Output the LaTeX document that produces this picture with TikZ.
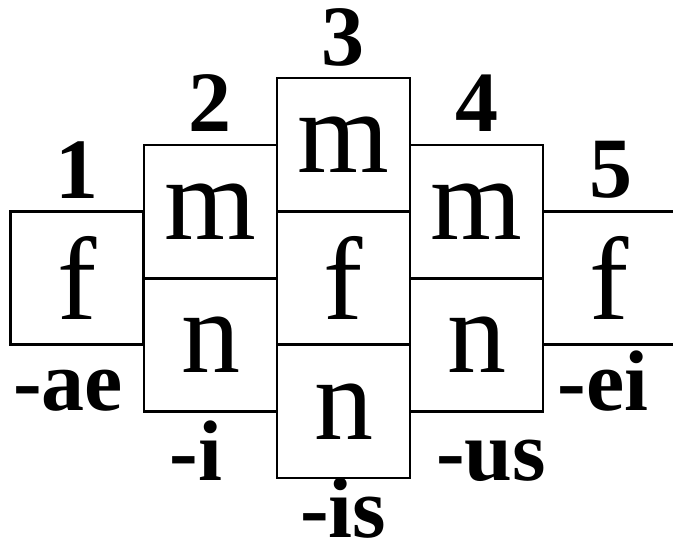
\documentclass[tikz,border=0pt]{standalone}
\usepackage{fontspec}
\setmainfont{Liberation Serif}
\usepackage{tikz}
\usetikzlibrary{positioning}

\tikzset{
  cell/.style={draw,line width=1.1pt,minimum width=66.5pt,minimum height=66.5pt,
    inner sep=0pt,font=\fontsize{59}{59}\selectfont},
  gram/.style={anchor=base,inner sep=0pt,font=\fontsize{43}{43}\selectfont\bfseries}
}

\begin{document}
\begin{tikzpicture}[x={(0.5pt,0)},y={(0,-0.5pt)}]
\useasboundingbox (0,0) rectangle (673,550);
% The first column
\node[cell] (f1) at (77,278) {f};
% The second column
\node[cell] (m2) at (210.5,211.5) {m};
\node[cell] (n2) at (210.5,345) {n};
% The third column
\node[cell] (m3) at (343.5,144.5) {m};
\node[cell] (f3) at (343.5,278) {f};
\node[cell] (n3) at (343.5,411.5) {n};
% The fourth column
\node[cell] (m4) at (476.5,211.5) {m};
\node[cell] (n4) at (476.5,345) {n};
% The fifth column
\node[cell] (f5) at (609.5,278) {f};

% The numbers on top
\foreach \col/\xx/\yy in {1/77/199,2/210/132,3/343/66,4/477/132,5/611/198}
{
  \node[gram] (d\col) at (\xx,\yy) {\col};
}
% The endings
\node[gram] (e1) at (68,410) {-ae};
\node[gram] (e2) at (196,480) {-i};
\node[gram] (e3) at (343,537) {-is};
\node[gram] (e4) at (491,480) {-us};
\node[gram] (e5) at (603,410) {-ei};
\end{tikzpicture}
\end{document}
